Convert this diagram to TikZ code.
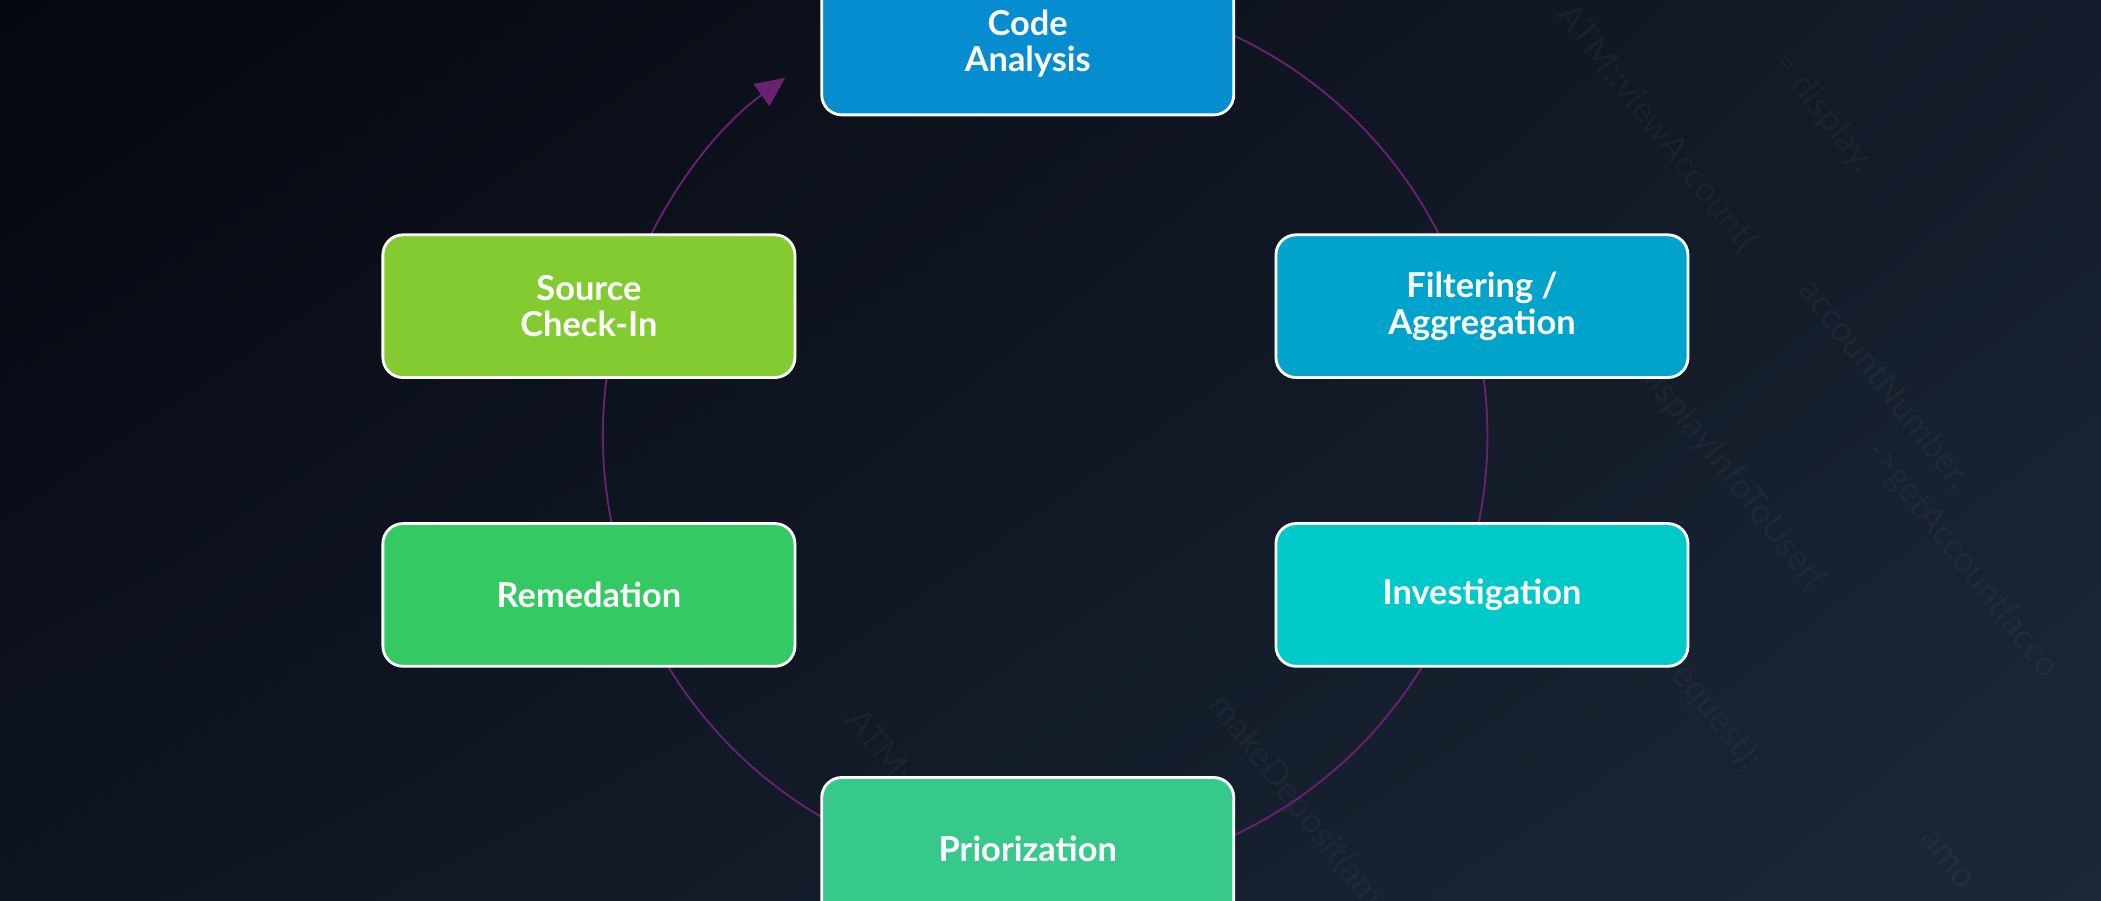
\documentclass[tikz,border=0pt]{standalone}
\usepackage{fontspec}
\setmainfont{Lato}
\usetikzlibrary{arrows.meta,calc,shadings}

\definecolor{bgUpperLeft}{HTML}{04070E}
\definecolor{bgUpperRight}{HTML}{151C2B}
\definecolor{bgLowerLeft}{HTML}{0E1422}
\definecolor{bgLowerRight}{HTML}{1C2836}
\definecolor{cyclePurple}{HTML}{6A2170}
\definecolor{analysisBlue}{HTML}{058DCF}
\definecolor{filterBlue}{HTML}{00A4CB}
\definecolor{investCyan}{HTML}{00C9CA}
\definecolor{prioGreen}{HTML}{37C98B}
\definecolor{remedGreen}{HTML}{34C963}
\definecolor{checkinGreen}{HTML}{84CB32}

\tikzset{
  stepBox/.style={draw=white, line width=0.6pt, rounded corners=0.15cm,
    minimum width=3.075cm, minimum height=1.065cm, text=white, align=center,
    font=\fontsize{7.3}{7.8}\selectfont\bfseries},
  codeText/.style={text=white, opacity=0.035, anchor=west, rotate=-52,
    font=\fontsize{7.5}{9}\selectfont},
  cycleLine/.style={draw=cyclePurple, line width=0.4pt}
}

\begin{document}
\begin{tikzpicture}
    \pgfmathsetmacro{\cycleRadius}{3.3}
    \pgfmathsetmacro{\startAngle}{70}
    \pgfmathsetmacro{\endAngle}{126-360}

    % Hintergrund
    \shade[upper left=bgUpperLeft, upper right=bgUpperRight,
      lower left=bgLowerLeft, lower right=bgLowerRight] (0,0) rectangle (15.68,6.72);
    \useasboundingbox (0,0) rectangle (15.68,6.72);

    % Code im Hintergrund
    \node[codeText] (codeView) at (11.6,6.75) {ATM::viewAccount(};
    \node[codeText] (codeDisplay) at (13.2,6.4) {= display,};
    \node[codeText] (codeNumber) at (13.4,4.7) {accountNumber,};
    \node[codeText] (codeInfo) at (12.2,4.1) {displayInfoToUser(};
    \node[codeText] (codeGet) at (13.9,3.5) {->getAccount(acco};
    \node[codeText] (codeReq) at (12.4,1.9) {request);};
    \node[codeText] (codeDeposit) at (9.0,1.6) {makeDeposit(amo};
    \node[codeText] (codeATM) at (6.3,1.5) {ATM::};
    \node[codeText] (codeAmount) at (14.3,0.6) {amo};

    % Kreis
    \coordinate (cycleCenter) at (7.8,3.47);
    \draw[cycleLine, -{Triangle[length=0.22cm,width=0.2cm]}]
      ($(cycleCenter)+(\startAngle:\cycleRadius)$)
      arc[start angle=\startAngle, end angle=\endAngle, radius=\cycleRadius];

    % Schritte
    \node[stepBox, fill=analysisBlue] (codeAnalysis) at (7.67,6.395) {Code\\Analysis};
    \node[stepBox, fill=filterBlue] (filtering) at (11.06,4.435) {Filtering /\\Aggregation};
    \node[stepBox, fill=investCyan] (investigation) at (11.06,2.28) {Investigation};
    \node[stepBox, fill=prioGreen] (priorization) at (7.67,0.385) {Priorization};
    \node[stepBox, fill=remedGreen] (remedation) at (4.395,2.28) {Remedation};
    \node[stepBox, fill=checkinGreen] (sourceCheckIn) at (4.395,4.435) {Source\\Check-In};
\end{tikzpicture}
\end{document}
